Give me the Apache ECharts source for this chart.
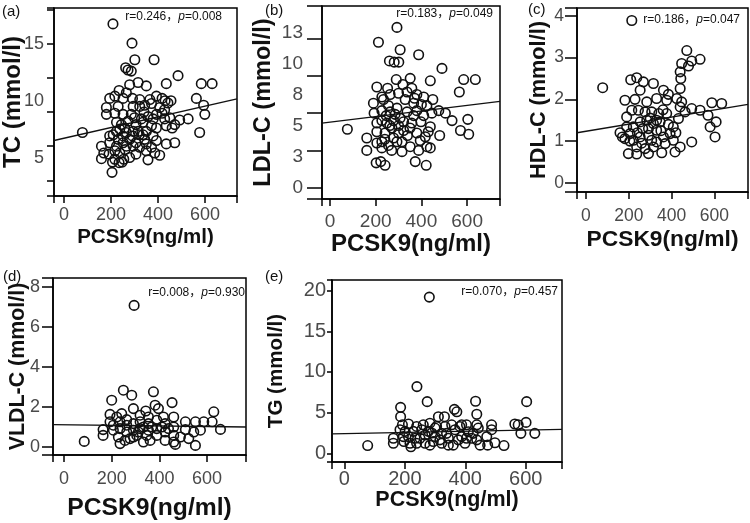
<!DOCTYPE html>
<html lang="en">
<head>
<meta charset="UTF-8">
<title>PCSK9 scatter</title>
<script src="https://cdn.jsdelivr.net/npm/echarts@6/dist/echarts.min.js"></script>
<style>
    html, body { margin: 0; padding: 0; background: #fff; }
    #main { width: 750px; height: 523px; }
</style>
</head>
<body>
<div id="main"></div>
<script>
// ---- data ----
var xTicks = [0, 200, 400, 600];
var yTicksA = [5, 10, 15];
var yTicksB = [0, 2.5, 5, 7.5, 10, 12.5];
var yTicksC = [0, 1, 2, 3, 4];
var yTicksD = [0, 2, 4, 6, 8];
var yTicksE = [0, 5, 10, 15, 20];

var panelTags = ['(a)', '(b)', '(c)', '(d)', '(e)'];
var yNames = ['TC (mmol/l)', 'LDL-C (mmol/l)', 'HDL-C (mmol/l)', 'VLDL-C (mmol/l)', 'TG (mmol/l)'];
var xName = 'PCSK9(ng/ml)';
var rValues = ['0.246', '0.183', '0.186', '0.008', '0.070'];
var pValues = ['0.008', '0.049', '0.047', '0.930', '0.457'];

// TC
var pointsA = [[208,16.75],[289,15.06],[301,13.6],[383,13.6],[262,12.9],[272,12.7],[286,12.6],[485,12.2],[279,11.4],[315,11.6],[350,11.3],[435,11.5],[584,11.5],[630,11.5],[234,10.9],[251,10.2],[194,10.2],[291,10.2],[417,10.2],[563,10.2],[594,9.6],[599,8.8],[528,8.4],[492,8.3],[471,7.9],[577,7.2],[78,7.2],[180,9.4],[180,8.8],[216,8.9],[251,8.8],[322,9.5],[343,9.6],[372,9.75],[357,8.6],[393,8.8],[428,9.2],[442,9.8],[417,8.9],[379,8.4],[336,8.1],[306,7.9],[272,8.2],[223,8.1],[237,7.5],[265,7.2],[294,7.3],[350,7.3],[393,7.6],[435,7.8],[428,8.4],[450,8.5],[379,6.9],[336,7.0],[209,7.0],[230,6.6],[279,6.6],[306,6.3],[343,6.6],[393,6.5],[435,6.2],[471,6.3],[194,6.3],[159,6.0],[159,4.9],[191,5.3],[216,5.6],[237,5.4],[216,4.85],[234,4.55],[254,4.85],[279,5.0],[306,5.3],[350,5.6],[357,4.8],[386,5.4],[407,5.2],[204,3.7],[265,6.0],[322,5.9],[294,6.0],[223,6.0],[251,6.3],[286,8.8],[322,10.1],[365,10.1],[393,10.4],[407,9.4],[230,9.5],[294,9.5],[265,10.7],[216,10.4],[329,8.4],[372,7.8],[315,7.3],[223,7.3],[251,6.9],[291,6.9],[350,6.2],[372,5.9],[194,6.9],[169,5.4],[206,4.6],[244,7.9],[258,7.6],[300,8.5],[320,7.0],[340,9.0],[260,5.7],[247,4.6],[430,10.0],[455,10.0],[460,7.6]];
var fitA = [[-43, 6.5], [736, 10.15]];

// LDL-C
var pointsB = [[293,12.9],[212,11.7],[307,11.1],[388,10.7],[260,10.2],[281,10.1],[301,10.1],[490,9.6],[585,8.7],[636,8.7],[566,7.7],[439,8.6],[290,8.7],[351,8.8],[205,8.1],[252,8.0],[319,8.3],[358,8.0],[263,7.5],[300,7.6],[380,7.5],[410,7.3],[450,7.1],[190,6.8],[234,7.1],[329,7.1],[366,6.8],[424,6.6],[505,6.0],[534,5.4],[603,5.5],[571,4.6],[607,4.3],[480,4.2],[76,4.7],[193,6.0],[227,6.2],[263,6.1],[293,6.4],[337,6.1],[380,6.2],[410,5.8],[446,6.0],[227,5.4],[249,5.2],[278,5.4],[322,5.3],[358,5.2],[398,5.3],[439,4.9],[205,4.5],[241,4.4],[271,4.8],[300,4.4],[339,4.2],[380,4.4],[417,4.1],[161,4.0],[161,3.0],[205,3.6],[227,3.2],[256,3.4],[293,3.7],[315,2.9],[351,3.3],[388,3.0],[424,3.3],[439,3.2],[202,2.0],[222,2.1],[241,1.8],[373,2.1],[421,1.8],[315,3.7],[395,3.8],[227,3.7],[278,4.0],[205,5.2],[322,4.6],[366,5.8],[256,6.6],[307,5.6],[476,6.2],[337,7.7],[227,7.3],[246,5.8],[262,5.0],[285,5.9],[350,4.8],[370,7.2],[400,6.7],[240,3.9],[270,3.0],[300,5.0],[430,4.5]];
var fitB = [[-35, 5.2], [744, 6.95]];

// HDL-C
var pointsC = [[214,3.89],[471,3.17],[533,2.96],[494,2.92],[447,2.86],[479,2.80],[440,2.66],[443,2.50],[440,2.26],[78,2.28],[209,2.47],[237,2.52],[268,2.42],[315,2.38],[362,2.22],[385,2.12],[253,2.22],[182,1.98],[229,2.0],[284,1.94],[330,2.02],[377,1.98],[424,2.02],[447,1.94],[494,1.78],[588,1.92],[634,1.90],[533,1.74],[570,1.62],[608,1.46],[580,1.34],[603,1.10],[494,0.98],[440,0.86],[416,0.74],[354,0.72],[292,0.70],[237,0.69],[198,0.70],[159,1.20],[182,1.06],[221,1.02],[253,1.10],[292,1.14],[330,0.98],[370,0.94],[408,1.02],[393,1.18],[190,1.34],[221,1.34],[253,1.46],[284,1.50],[315,1.42],[346,1.46],[385,1.40],[432,1.54],[463,1.70],[190,1.58],[214,1.74],[245,1.74],[276,1.70],[307,1.70],[340,1.66],[377,1.66],[237,0.86],[276,0.82],[315,0.86],[362,1.10],[408,1.34],[440,1.82],[330,1.26],[292,1.30],[206,1.18],[307,1.02],[240,1.2],[265,1.3],[300,1.55],[350,1.25],[205,1.0],[260,0.95],[330,1.5],[420,1.2],[170,1.1],[360,1.75]];
var fitC = [[-42, 1.2], [757, 1.88]];

// VLDL-C
var pointsD = [[294,7.08],[85,0.28],[249,2.84],[284,2.59],[375,2.76],[200,2.34],[291,1.92],[343,1.80],[382,2.09],[396,1.92],[453,2.22],[193,1.63],[242,1.67],[319,1.59],[354,1.50],[417,1.50],[460,1.50],[628,1.76],[586,1.26],[551,1.26],[621,1.26],[509,1.26],[509,0.87],[544,0.75],[572,0.84],[656,0.88],[551,0.08],[164,0.87],[164,0.58],[207,1.09],[235,1.26],[263,1.37],[291,1.17],[319,1.26],[354,1.17],[389,1.34],[424,1.17],[460,1.00],[207,0.84],[235,0.92],[263,0.75],[291,0.84],[319,0.92],[354,0.84],[389,0.92],[424,0.75],[460,0.58],[488,0.50],[523,0.42],[228,0.50],[256,0.33],[277,0.42],[305,0.58],[333,0.25],[361,0.33],[389,0.58],[424,0.33],[460,0.25],[467,0.13],[235,0.17],[291,0.50],[193,1.26],[221,1.50],[263,1.09],[333,1.00],[368,1.00],[410,1.00],[438,0.92],[312,0.75],[347,0.58]];
var fitD = [[-46, 1.12], [763, 1.0]];

// TG
var pointsE = [[281,19.2],[240,8.2],[274,6.35],[186,5.65],[186,4.5],[434,6.4],[438,4.8],[603,6.35],[364,5.4],[372,5.1],[311,4.5],[331,4.5],[77,0.95],[162,1.85],[162,1.23],[192,3.5],[212,3.6],[201,2.7],[197,1.45],[220,0.8],[239,1.23],[261,3.5],[283,3.7],[267,2.25],[289,2.5],[305,3.3],[316,1.65],[338,2.45],[355,3.5],[382,3.3],[388,2.05],[404,3.5],[438,3.5],[443,3.1],[421,1.85],[438,1.65],[449,1.0],[471,2.05],[487,3.5],[487,2.9],[498,1.3],[474,1.0],[528,0.95],[564,3.6],[575,3.5],[601,3.8],[584,2.45],[630,2.45],[184,2.9],[212,2.05],[228,2.7],[250,1.85],[267,1.23],[283,1.0],[300,2.05],[322,2.45],[344,1.85],[360,1.0],[377,1.65],[399,1.23],[410,2.65],[426,2.45],[322,1.23],[294,1.45],[234,1.85],[217,1.23],[239,3.3],[256,2.9],[278,2.7],[300,3.1],[333,3.3],[366,2.9],[388,3.5],[404,1.85],[344,1.0],[195,2.05]];
var fitE = [[-41, 2.38], [720, 2.95]];

// ---- layout of the five panels ----
var panels = [
    {box: [54, 8, 183, 188], x: [-43, 736], y: [1.62, 18.15], yTicks: yTicksA, pts: pointsA, fit: fitA,
     yTick: 7, yMargin: 10, yGap: 29, yFont: 24, xMargin: 9, xGap: 29, xFont: 20.5, lblFont: 18,
     tag: [2, 12], note: [222, 17]},
    {box: [322, 6, 178, 193], x: [-35, 744], y: [-0.91, 14.62], yTicks: yTicksB, pts: pointsB, fit: fitB,
     yTick: 15, yMargin: 19, yGap: 47, yFont: 23.5, xMargin: 12, xGap: 31, xFont: 24, lblFont: 19,
     tag: [265, 11], note: [493, 14]},
    {box: [577, 8, 171, 184], x: [-42, 757], y: [-0.22, 4.19], yTicks: yTicksC, pts: pointsC, fit: fitC,
     yTick: 12, yMargin: 13, yGap: 27, yFont: 21.7, xMargin: 14, xGap: 34, xFont: 22.8, lblFont: 17.5,
     tag: [528, 10], note: [740, 20]},
    {box: [53, 278, 193, 177], x: [-46, 763], y: [-0.4, 8.45], yTicks: yTicksD, pts: pointsD, fit: fitD,
     yTick: 11, yMargin: 13, yGap: 24, yFont: 21.4, xMargin: 14, xGap: 39, xFont: 24.7, lblFont: 18,
     tag: [3, 277], note: [245, 293]},
    {box: [332, 280, 230, 182], x: [-41, 720], y: [-1.07, 21.3], yTicks: yTicksE, pts: pointsE, fit: fitE,
     yTick: 5, yMargin: 6, yGap: 45, yFont: 20.6, xMargin: 6, xGap: 25, xFont: 21.5, lblFont: 20,
     tag: [265, 277], note: [558, 292]}
];

var FONT = 'Liberation Sans, Arial, Noto Sans CJK SC, sans-serif';
var axisLineStyle = {color: '#000', width: 1.5};
var grids = [], xAxes = [], yAxes = [], series = [], graphics = [];

panels.forEach(function (p, i) {
    grids.push({
        left: p.box[0], top: p.box[1], width: p.box[2], height: p.box[3],
        show: true, borderColor: '#000', borderWidth: 1.5, backgroundColor: 'transparent',
        containLabel: false, outerBoundsMode: 'none'
    });
    // ticks follow the custom label values; axes sit on the box edges
    xAxes.push({
        gridIndex: i, type: 'value', min: p.x[0], max: p.x[1],
        axisLine: {show: true, onZero: false, lineStyle: axisLineStyle},
        axisTick: {show: true, length: 7, lineStyle: axisLineStyle},
        axisLabel: {customValues: xTicks, margin: p.xMargin + 1, fontSize: p.lblFont, color: '#4a4a4a', fontFamily: FONT},
        splitLine: {show: false},
        name: xName, nameLocation: 'middle', nameGap: p.xGap + 2, nameMoveOverlap: false,
        nameTextStyle: {fontSize: p.xFont, fontWeight: 'bold', color: '#111', fontFamily: FONT}
    });
    yAxes.push({
        gridIndex: i, type: 'value', min: p.y[0], max: p.y[1],
        axisLine: {show: true, onZero: false, lineStyle: axisLineStyle},
        axisTick: {show: true, length: p.yTick, lineStyle: axisLineStyle},
        axisLabel: {
            customValues: p.yTicks, margin: p.yMargin, fontSize: p.lblFont, color: '#4a4a4a', fontFamily: FONT,
            formatter: function (v) { return String(Math.round(v)); }
        },
        splitLine: {show: false},
        name: yNames[i], nameLocation: 'middle', nameGap: p.yGap, nameRotate: 90, nameMoveOverlap: false,
        nameTextStyle: {fontSize: p.yFont, fontWeight: 'bold', color: '#111', fontFamily: FONT}
    });
    series.push({
        type: 'scatter', xAxisIndex: i, yAxisIndex: i, data: p.pts,
        symbol: 'circle', symbolSize: 9.5,
        itemStyle: {color: 'rgba(0,0,0,0)', borderColor: '#111', borderWidth: 1.6, opacity: 1}
    });
    series.push({
        type: 'line', xAxisIndex: i, yAxisIndex: i, data: p.fit,
        symbol: 'none', clip: true, silent: true,
        lineStyle: {color: '#111', width: 1.3}
    });
    graphics.push({
        type: 'text', x: p.tag[0], y: p.tag[1],
        style: {text: panelTags[i], font: '15px ' + FONT, fill: '#111', verticalAlign: 'middle'}
    });
    graphics.push({
        type: 'text', x: p.note[0], y: p.note[1],
        style: {
            text: '{n|r=' + rValues[i] + '，}{it|p}{n|=' + pValues[i] + '}',
            align: 'right', verticalAlign: 'middle', fill: '#111',
            font: '12px ' + FONT,
            rich: {
                n: {fontSize: 12, fontFamily: FONT, fill: '#111'},
                it: {fontSize: 12, fontFamily: FONT, fontStyle: 'italic', fill: '#111'}
            }
        }
    });
});

var myChart = echarts.init(document.getElementById('main'));
myChart.setOption({
    animation: false,
    backgroundColor: '#fff',
    grid: grids,
    xAxis: xAxes,
    yAxis: yAxes,
    series: series,
    graphic: graphics
});
</script>
</body>
</html>
